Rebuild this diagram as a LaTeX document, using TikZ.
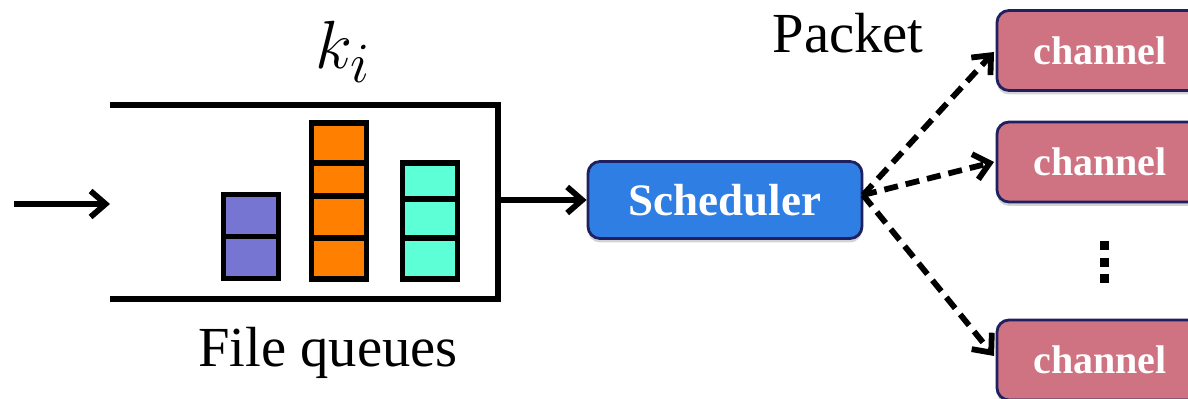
\documentclass[tikz,border=0pt]{standalone}
\usepackage{graphicx}
\usepackage{fontspec}
\setmainfont{Liberation Serif}
\usetikzlibrary{arrows.meta,shadows}
\definecolor{schedblue}{RGB}{47,126,228}
\definecolor{boxborder}{RGB}{30,32,96}
\definecolor{chanred}{RGB}{207,115,130}
\definecolor{qpurple}{RGB}{118,118,210}
\definecolor{qorange}{RGB}{255,128,0}
\definecolor{qteal}{RGB}{92,255,214}
\tikzset{
  px/.style={x=0.5pt,y=-0.5pt},
  arr/.style={line width=2.9pt,-{Straight Barb[length=7.5pt,width=13pt,line width=2.9pt]}},
  darr/.style={arr,dash pattern=on 7pt off 4pt},
  rbox/.style={rounded corners=6pt,draw=boxborder,line width=1.4pt,
    drop shadow={shadow xshift=0pt,shadow yshift=-2pt,opacity=0.35,fill=gray},
    text=white,font=\fontsize{22.5}{26}\selectfont\bfseries,inner sep=0pt},
  sched/.style={rbox,fill=schedblue,minimum width=137pt,minimum height=38.5pt},
  chan/.style={rbox,fill=chanred,minimum width=103pt,minimum height=40pt,font=\fontsize{20}{24}\selectfont\bfseries},
  pkt/.style={draw=black,line width=2.8pt,minimum width=27.5pt,inner sep=0pt},
  lbl/.style={font=\fontsize{28.3}{32}\selectfont,inner sep=0pt},
  dot/.style={fill=black,minimum size=4.5pt,inner sep=0pt}
}
\begin{document}
\begin{tikzpicture}[px]
\useasboundingbox (0,0) rectangle (1188,399);
\clip (0,0) rectangle (1188,399);
% queue box (open left)
\draw[line width=2.9pt] (110,105) -- (498,105) -- (498,299) -- (110,299);
\coordinate (qin) at (110,204);
\coordinate (src) at (14,204);
\coordinate (qout) at (498,200);
\draw[arr] (src) -- (qin);
% labels
\node[inner sep=0pt,font=\fontsize{24.88}{28}\selectfont] (k) at (343,52) {\scalebox{1.37}{$k_i$}};
\node[lbl] (fq) at (328,353) {File queues};
\node[lbl] (pk) at (848,33) {Packet};
% packets: purple
\node[pkt,fill=qpurple,minimum height=21pt] (p1) at (251,215.5) {};
\node[pkt,fill=qpurple,minimum height=21pt] (p2) at (251,257.5) {};
% orange
\node[pkt,fill=qorange,minimum height=20pt] (o1) at (339,143) {};
\node[pkt,fill=qorange,minimum height=16.5pt] (o2) at (339,179.5) {};
\node[pkt,fill=qorange,minimum height=21pt] (o3) at (339,217) {};
\node[pkt,fill=qorange,minimum height=20.5pt] (o4) at (339,258.5) {};
% teal
\node[pkt,fill=qteal,minimum height=18pt] (t1) at (430,181) {};
\node[pkt,fill=qteal,minimum height=19.5pt] (t2) at (430,218.5) {};
\node[pkt,fill=qteal,minimum height=20.5pt] (t3) at (430,258.5) {};
% scheduler
\node[sched] (s) at (725,200) {Scheduler};
\draw[arr] (qout) -- (s.west);
% channels
\node[chan] (c1) at (1100,50.5) {channel};
\node[chan] (c2) at (1100,162) {channel};
\node[chan] (c3) at (1100,360) {channel};
% dots
\node[dot] (d1) at (1104,246) {};
\node[dot] (d2) at (1104,263) {};
\node[dot] (d3) at (1104,279) {};
% dashed arrows
\coordinate (so) at (863,195);
\coordinate (e1) at (994,52);
\coordinate (e2) at (994,162);
\coordinate (e3) at (994,356);
\draw[darr] (so) -- (e1);
\draw[darr] (so) -- (e2);
\draw[darr] (so) -- (e3);
\end{tikzpicture}
\end{document}
